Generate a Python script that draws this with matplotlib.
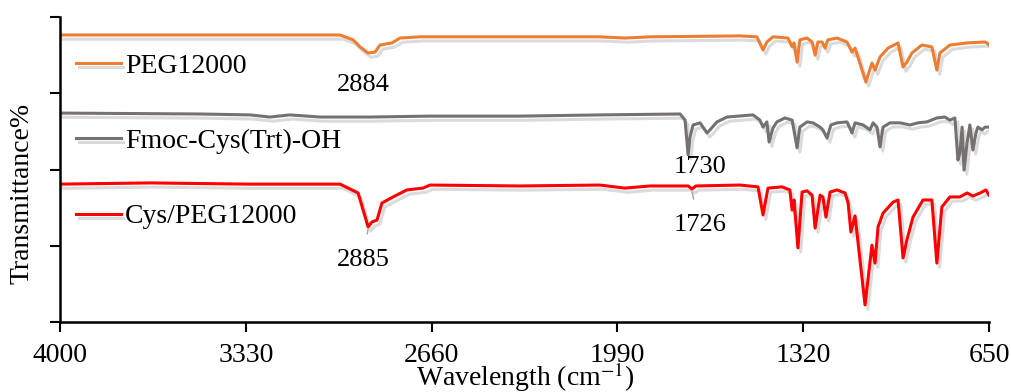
import matplotlib
matplotlib.use('Agg')
import matplotlib.pyplot as plt
import matplotlib.patheffects as pe

# 데이터
x_ticks = [4000, 3330, 2660, 1990, 1320, 650]

peg_wn = [4000, 3495, 2990, 2943, 2918, 2889, 2864, 2846, 2803, 2774, 2702, 2655, 2053, 1963, 1872,
          1548, 1487, 1465, 1451, 1429, 1375, 1360, 1353, 1342, 1332, 1306, 1288, 1277, 1267, 1252,
          1241, 1231, 1198, 1162, 1144, 1133, 1094, 1072, 1061, 1043, 1014, 978, 960, 946, 928,
          892, 856, 838, 827, 791, 729, 664, 657, 650]
peg_t = [94.1, 94.1, 94.1, 92.5, 90.2, 88.2, 88.5, 90.8, 91.5, 93.1, 93.5, 93.5, 93.5, 93.1, 93.5,
         93.8, 93.5, 89.2, 91.8, 93.5, 93.1, 90.2, 91.5, 85.2, 92.5, 93.1, 91.8, 87.5, 91.8, 91.8,
         89.8, 92.5, 93.1, 91.8, 88.5, 89.8, 78.7, 84.9, 82.6, 86.9, 89.8, 91.5, 83.6, 85.2, 88.2,
         90.8, 90.2, 82.6, 88.2, 90.8, 91.5, 91.8, 91.5, 90.8]

fmoc_wn = [4000, 3495, 3315, 3243, 3171, 3062, 2882, 2666, 2341, 2053, 1764, 1746, 1735, 1728, 1717,
           1692, 1667, 1656, 1631, 1595, 1501, 1476, 1465, 1451, 1443, 1429, 1415, 1386, 1360, 1342,
           1332, 1306, 1285, 1259, 1249, 1234, 1220, 1198, 1162, 1144, 1133, 1104, 1079, 1068, 1054,
           1043, 1032, 1007, 971, 935, 906, 874, 838, 809, 791, 773, 762, 755, 747, 740,
           729, 719, 708, 697, 690, 675, 664, 650]
fmoc_t = [68.5, 68.2, 67.9, 67.2, 67.9, 67.2, 67.2, 67.5, 67.5, 67.9, 68.2, 66.2, 54.8, 60.7, 64.6,
          65.3, 62.0, 63.0, 65.6, 67.2, 67.9, 66.2, 63.9, 65.6, 59.0, 63.6, 65.6, 66.9, 66.2, 57.1,
          63.9, 65.6, 65.3, 63.9, 63.0, 60.3, 64.6, 65.3, 65.6, 62.0, 65.3, 64.6, 63.0, 65.3, 63.9,
          57.4, 63.9, 65.3, 65.3, 64.6, 65.3, 65.6, 66.9, 67.2, 66.2, 66.9, 53.1, 55.4, 63.9, 49.8,
          58.7, 64.6, 56.4, 62.0, 63.9, 63.0, 63.9, 63.9]

cys_wn = [4000, 3675, 3315, 2990, 2925, 2889, 2875, 2857, 2839, 2799, 2749, 2691, 2666, 2341, 2053,
          1963, 1872, 1735, 1721, 1707, 1548, 1483, 1465, 1447, 1396, 1368, 1360, 1353, 1339, 1324,
          1306, 1288, 1277, 1259, 1249, 1238, 1223, 1198, 1169, 1158, 1148, 1133, 1097, 1072, 1061,
          1050, 1032, 996, 978, 960, 946, 924, 888, 856, 838, 820, 791, 755, 729, 708,
          682, 661, 650]
cys_t = [45.2, 45.6, 45.2, 45.2, 42.3, 31.2, 32.8, 33.4, 39.0, 41.0, 43.3, 43.9, 44.9, 44.6, 44.9,
         43.9, 44.6, 44.6, 43.6, 44.6, 44.9, 44.3, 35.1, 43.9, 44.3, 43.3, 36.7, 40.0, 24.3, 42.6,
         43.0, 41.6, 30.8, 41.6, 41.0, 34.4, 42.6, 43.3, 42.3, 39.0, 29.5, 34.8, 5.6, 25.2, 19.3,
         31.2, 35.7, 39.3, 40.0, 21.0, 26.9, 34.4, 40.0, 40.0, 19.3, 37.7, 41.0, 41.0, 42.3, 41.3,
         42.3, 43.3, 41.6]

series = [
    ('PEG12000', peg_wn, peg_t, '#ED7D31'),
    ('Fmoc-Cys(Trt)-OH', fmoc_wn, fmoc_t, '#767171'),
    ('Cys/PEG12000', cys_wn, cys_t, '#FF0000'),
]

# 폰트 설정
plt.rcParams['font.family'] = ['Liberation Serif', 'DejaVu Serif']
plt.rcParams['mathtext.fontset'] = 'stix'

fig = plt.figure(figsize=(10.11, 3.92), dpi=100)
ax = fig.add_axes([60 / 1011, 70 / 392, 929 / 1011, 305 / 392])

shadow = [pe.SimpleLineShadow(offset=(2, -3), shadow_color='#888888', alpha=0.3, rho=1),
          pe.Normal()]
for name, wn, t, color in series:
    ax.plot(wn, t, color=color, lw=2.2, label=name, path_effects=shadow,
            solid_joinstyle='round')

# 피크 표시
ax.text(2907, 77.7, '2884', fontsize=19, ha='center', va='center')
ax.annotate('2885', xy=(2889, 30.5), xytext=(2907, 20.3), fontsize=19, ha='center', va='center',
            arrowprops=dict(arrowstyle='-', color='#A0A0A0', lw=1, shrinkA=9, shrinkB=0))
ax.text(1692, 50.8, '1730', fontsize=19, ha='center', va='center')
ax.annotate('1726', xy=(1721, 42.6), xytext=(1692, 31.8), fontsize=19, ha='center', va='center',
            arrowprops=dict(arrowstyle='-', color='#A0A0A0', lw=1, shrinkA=9, shrinkB=0))

# 축
ax.set_xlim(4000, 650)
ax.set_ylim(0, 100)
ax.set_xticks(x_ticks)
ax.set_xticklabels([str(v) for v in x_ticks])
ax.set_yticks([0, 25, 50, 75, 100])
ax.set_yticklabels([])
ax.tick_params(direction='out', length=7, width=1.5, labelsize=20, pad=8)
for side in ['top', 'right']:
    ax.spines[side].set_visible(False)
for side in ['left', 'bottom']:
    ax.spines[side].set_linewidth(1.8)

fig.text(22 / 1011, 1 - 193 / 392, 'Transmittance%', rotation=90, fontsize=20,
         ha='center', va='center')
fig.text(525 / 1011, 1 - 386 / 392, 'Wavelength (cm$^{-1}$)', fontsize=20,
         ha='center', va='baseline')

leg = ax.legend(loc='upper left', bbox_to_anchor=(5 / 929, 1 - 25 / 305), frameon=False,
                fontsize=20, handlelength=1.6, handletextpad=0.15, labelspacing=1.8,
                borderaxespad=0)

fig.savefig('out.png', dpi=100)
